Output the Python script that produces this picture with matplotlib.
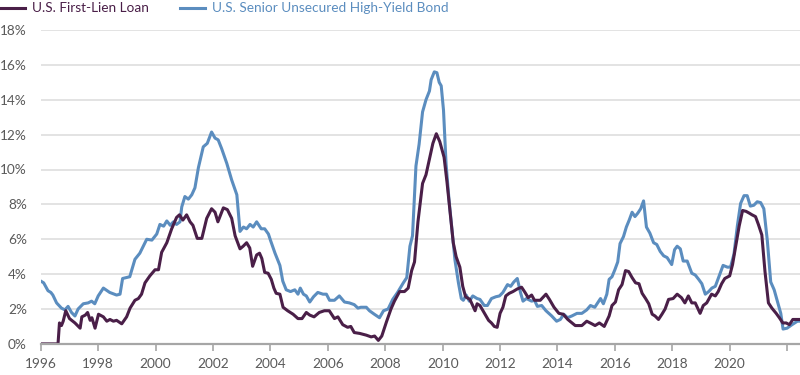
import numpy as np
import matplotlib.pyplot as plt
from matplotlib.lines import Line2D

plt.rcParams['font.family'] = ['Lato', 'DejaVu Sans']

# ----------------------------
# Data (default rates, %)
# ----------------------------
loan_year = [1996.0, 1996.6, 1996.65, 1996.72, 1996.78, 1996.87, 1997.0, 1997.19, 1997.37, 1997.43,
             1997.55, 1997.63, 1997.72, 1997.78, 1997.89, 1998.01, 1998.18, 1998.3, 1998.41, 1998.53,
             1998.64, 1998.82, 1998.99, 1999.11, 1999.28, 1999.4, 1999.51, 1999.63, 1999.8, 1999.98,
             2000.1, 2000.21, 2000.39, 2000.56, 2000.73, 2000.83, 2000.95, 2001.08, 2001.2, 2001.3,
             2001.45, 2001.61, 2001.78, 2001.95, 2002.07, 2002.17, 2002.36, 2002.5, 2002.65, 2002.77,
             2002.94, 2003.05, 2003.17, 2003.28, 2003.38, 2003.52, 2003.62, 2003.7, 2003.8, 2003.92,
             2004.03, 2004.12, 2004.2, 2004.33, 2004.44, 2004.6, 2004.79, 2004.96, 2005.1, 2005.25,
             2005.37, 2005.52, 2005.7, 2005.88, 2006.05, 2006.23, 2006.35, 2006.52, 2006.69, 2006.8,
             2006.92, 2007.11, 2007.34, 2007.51, 2007.63, 2007.76, 2007.88, 2008.04, 2008.2, 2008.32,
             2008.5, 2008.67, 2008.8, 2008.92, 2009.02, 2009.14, 2009.3, 2009.42, 2009.54, 2009.66,
             2009.78, 2009.9, 2010.05, 2010.15, 2010.27, 2010.37, 2010.47, 2010.6, 2010.7, 2010.8,
             2010.95, 2011.13, 2011.2, 2011.3, 2011.46, 2011.6, 2011.7, 2011.8, 2011.9, 2012.0,
             2012.1, 2012.2, 2012.32, 2012.45, 2012.6, 2012.75, 2012.87, 2012.98, 2013.1, 2013.2,
             2013.4, 2013.6, 2013.72, 2013.88, 2014.05, 2014.2, 2014.36, 2014.62, 2014.85, 2015.02,
             2015.2, 2015.31, 2015.46, 2015.63, 2015.8, 2015.9, 2016.02, 2016.13, 2016.25, 2016.37,
             2016.48, 2016.6, 2016.72, 2016.84, 2016.95, 2017.07, 2017.18, 2017.3, 2017.4, 2017.52,
             2017.64, 2017.75, 2017.87, 2018.03, 2018.17, 2018.32, 2018.44, 2018.56, 2018.68, 2018.8,
             2018.97, 2019.08, 2019.2, 2019.37, 2019.5, 2019.6, 2019.72, 2019.83, 2020.0, 2020.1,
             2020.22, 2020.33, 2020.45, 2020.57, 2020.68, 2020.78, 2020.9, 2021.0, 2021.12, 2021.23,
             2021.35, 2021.47, 2021.62, 2021.73, 2021.85, 2021.97, 2022.08, 2022.2, 2022.45]
loan_rate = [0.0, 0.0, 1.2, 1.05, 1.3, 1.9, 1.45, 1.2, 0.9, 1.55,
             1.65, 1.8, 1.35, 1.5, 0.9, 1.7, 1.55, 1.3, 1.4, 1.3,
             1.35, 1.15, 1.55, 2.05, 2.5, 2.6, 2.85, 3.5, 3.9, 4.25,
             4.25, 5.25, 5.8, 6.6, 7.25, 7.4, 7.1, 7.4, 7.0, 6.8,
             6.05, 6.05, 7.2, 7.75, 7.55, 7.0, 7.8, 7.7, 7.2, 6.2,
             5.45, 5.6, 5.8, 5.5, 4.45, 5.1, 5.2, 4.9, 4.1, 4.05,
             3.7, 3.2, 2.9, 2.85, 2.1, 1.9, 1.7, 1.45, 1.45, 1.8,
             1.65, 1.55, 1.8, 1.9, 1.9, 1.45, 1.55, 1.1, 0.95, 1.0,
             0.65, 0.6, 0.5, 0.4, 0.45, 0.2, 0.45, 1.25, 2.0, 2.45,
             3.0, 3.0, 3.2, 4.2, 4.7, 7.0, 9.2, 9.7, 10.6, 11.5,
             12.05, 11.6, 10.7, 9.3, 7.4, 5.8, 5.0, 4.4, 3.3, 2.7,
             2.55, 1.9, 2.3, 2.2, 1.75, 1.35, 1.2, 1.0, 0.95, 1.75,
             2.1, 2.75, 2.9, 3.0, 3.15, 3.25, 2.95, 2.65, 2.8, 2.5,
             2.5, 2.85, 2.55, 2.1, 1.75, 1.7, 1.4, 1.05, 1.05, 1.3,
             1.15, 1.05, 1.2, 1.0, 1.6, 2.2, 2.4, 3.1, 3.4, 4.2,
             4.15, 3.8, 3.5, 3.45, 2.9, 2.6, 2.3, 1.7, 1.6, 1.4,
             1.7, 2.0, 2.55, 2.6, 2.85, 2.65, 2.35, 2.75, 2.35, 2.35,
             1.75, 2.2, 2.35, 2.85, 2.75, 3.0, 3.45, 3.75, 3.9, 4.55,
             5.7, 6.75, 7.65, 7.6, 7.5, 7.4, 7.3, 6.85, 6.25, 4.15,
             2.35, 2.05, 1.75, 1.5, 1.2, 1.2, 1.1, 1.4, 1.4]

bond_year = [1996.0, 1996.1, 1996.25, 1996.35, 1996.42, 1996.55, 1996.72, 1996.84, 1996.95, 1997.07,
             1997.19, 1997.3, 1997.48, 1997.65, 1997.77, 1997.88, 1998.0, 1998.18, 1998.4, 1998.64,
             1998.76, 1998.85, 1999.1, 1999.28, 1999.45, 1999.69, 1999.87, 2000.04, 2000.15, 2000.28,
             2000.39, 2000.51, 2000.62, 2000.73, 2000.85, 2000.91, 2001.02, 2001.14, 2001.26, 2001.37,
             2001.49, 2001.66, 2001.8, 2001.95, 2002.07, 2002.18, 2002.3, 2002.48, 2002.65, 2002.83,
             2002.94, 2003.06, 2003.17, 2003.29, 2003.4, 2003.52, 2003.68, 2003.8, 2003.93, 2004.0,
             2004.16, 2004.33, 2004.43, 2004.55, 2004.7, 2004.85, 2004.96, 2005.04, 2005.15, 2005.25,
             2005.37, 2005.5, 2005.65, 2005.83, 2005.95, 2006.06, 2006.23, 2006.4, 2006.58, 2006.75,
             2006.92, 2007.05, 2007.15, 2007.34, 2007.45, 2007.62, 2007.8, 2007.94, 2008.1, 2008.26,
             2008.43, 2008.63, 2008.75, 2008.86, 2008.95, 2009.07, 2009.18, 2009.3, 2009.42, 2009.54,
             2009.6, 2009.71, 2009.8, 2009.88, 2009.95, 2010.03, 2010.12, 2010.22, 2010.33, 2010.43,
             2010.55, 2010.65, 2010.72, 2010.82, 2010.93, 2011.05, 2011.2, 2011.3, 2011.45, 2011.56,
             2011.7, 2011.85, 2011.98, 2012.1, 2012.26, 2012.37, 2012.48, 2012.6, 2012.72, 2012.8,
             2012.92, 2013.1, 2013.2, 2013.3, 2013.45, 2013.6, 2013.8, 2013.97, 2014.1, 2014.22,
             2014.35, 2014.5, 2014.68, 2014.85, 2015.02, 2015.15, 2015.3, 2015.5, 2015.6, 2015.72,
             2015.8, 2015.9, 2016.0, 2016.1, 2016.18, 2016.3, 2016.4, 2016.5, 2016.6, 2016.7,
             2016.8, 2016.9, 2017.0, 2017.1, 2017.22, 2017.35, 2017.46, 2017.58, 2017.7, 2017.82,
             2017.98, 2018.08, 2018.17, 2018.28, 2018.38, 2018.52, 2018.68, 2018.8, 2018.92, 2019.03,
             2019.15, 2019.27, 2019.38, 2019.5, 2019.6, 2019.77, 2019.92, 2020.03, 2020.15, 2020.27,
             2020.38, 2020.5, 2020.61, 2020.72, 2020.84, 2020.96, 2021.08, 2021.19, 2021.31, 2021.43,
             2021.55, 2021.66, 2021.78, 2021.86, 2022.0, 2022.17, 2022.36, 2022.45]
bond_rate = [3.6, 3.5, 3.05, 2.95, 2.8, 2.35, 2.05, 1.95, 2.15, 1.8,
             1.6, 2.0, 2.3, 2.35, 2.45, 2.3, 2.75, 3.2, 2.95, 2.8,
             2.85, 3.75, 3.85, 4.85, 5.2, 6.0, 5.95, 6.3, 6.85, 6.75,
             7.05, 6.8, 7.0, 6.85, 7.0, 7.85, 8.45, 8.3, 8.55, 8.95,
             10.1, 11.3, 11.5, 12.15, 11.8, 11.7, 11.2, 10.35, 9.4, 8.55,
             6.45, 6.7, 6.6, 6.85, 6.7, 7.0, 6.6, 6.6, 6.3, 5.95,
             5.2, 4.5, 3.6, 3.1, 3.0, 3.1, 2.85, 3.2, 2.85, 2.75,
             2.4, 2.7, 2.95, 2.85, 2.85, 2.5, 2.5, 2.75, 2.4, 2.35,
             2.25, 2.05, 2.1, 2.1, 1.9, 1.7, 1.5, 1.9, 2.0, 2.55,
             2.95, 3.5, 3.8, 5.6, 6.2, 10.2, 11.45, 13.3, 14.0, 14.5,
             15.15, 15.6, 15.55, 15.0, 14.8, 13.4, 10.3, 8.3, 6.5, 4.8,
             3.5, 2.6, 2.5, 2.8, 2.45, 2.75, 2.6, 2.55, 2.2, 2.2,
             2.6, 2.7, 2.75, 2.95, 3.4, 3.3, 3.55, 3.75, 2.9, 2.45,
             2.6, 2.45, 2.5, 2.15, 2.2, 1.9, 1.6, 1.3, 1.4, 1.7,
             1.5, 1.6, 1.75, 1.75, 1.95, 2.2, 2.1, 2.6, 2.3, 2.85,
             3.7, 3.85, 4.25, 4.7, 5.75, 6.15, 6.7, 7.1, 7.55, 7.3,
             7.5, 7.75, 8.2, 6.7, 6.35, 5.8, 5.7, 5.3, 5.05, 4.95,
             4.55, 5.4, 5.6, 5.45, 4.75, 4.75, 4.05, 3.95, 3.7, 3.45,
             2.85, 3.0, 3.2, 3.3, 3.75, 4.5, 4.4, 4.4, 5.15, 6.8,
             8.05, 8.5, 8.5, 7.9, 7.95, 8.15, 8.1, 7.75, 5.95, 3.55,
             3.1, 2.45, 1.75, 0.85, 0.9, 1.1, 1.3, 1.3]

series_names = ["U.S. First-Lien Loan", "U.S. Senior Unsecured High-Yield Bond"]
x_ticks = list(range(1996, 2023, 2))
x_labels = [str(y) if y <= 2020 else "" for y in x_ticks]
y_ticks = list(range(0, 19, 2))

# ----------------------------
# Plot
# ----------------------------
purple = "#4a1f48"
blue = "#5b8dbf"
grey_text = "#5a5a5a"
fs = 9.8

fig = plt.figure(figsize=(8, 3.75), dpi=100)
ax = fig.add_axes([0.051, 0.083, 0.949, 0.837])

ax.plot(bond_year, bond_rate, color=blue, lw=2.2, zorder=3)
ax.plot(loan_year, loan_rate, color=purple, lw=2.2, zorder=4)

ax.set_xlim(1996, 2022.45)
ax.set_ylim(0, 18)
ax.set_yticks(y_ticks)
ax.set_yticklabels([f"{v}%" for v in y_ticks])
ax.set_xticks(x_ticks)
ax.set_xticklabels(x_labels)

ax.grid(axis="y", color="#e3e3e3", lw=1.4, zorder=0)
for s in ["top", "right", "left"]:
    ax.spines[s].set_visible(False)
ax.spines["bottom"].set_color("#a6a6a6")
ax.spines["bottom"].set_linewidth(1.6)
ax.spines["bottom"].set_zorder(5)
ax.tick_params(axis="y", length=0, pad=10, labelsize=fs, labelcolor=grey_text)
ax.tick_params(axis="x", length=5, width=1.2, color="#a6a6a6", pad=5,
               labelsize=fs, labelcolor=grey_text)

# --- legend drawn by hand above the plot ---
W, H = 800, 375
ly = 1 - 8 / H
for (x0, x1, xt), name, c in zip([(0, 25, 32), (180, 205, 212)], series_names, [purple, blue]):
    fig.add_artist(Line2D([x0 / W, x1 / W], [ly, ly], color=c, lw=2.2))
    fig.text(xt / W, ly, name, color=c, fontsize=fs, va="center", ha="left")

plt.savefig("out.png", dpi=100)
